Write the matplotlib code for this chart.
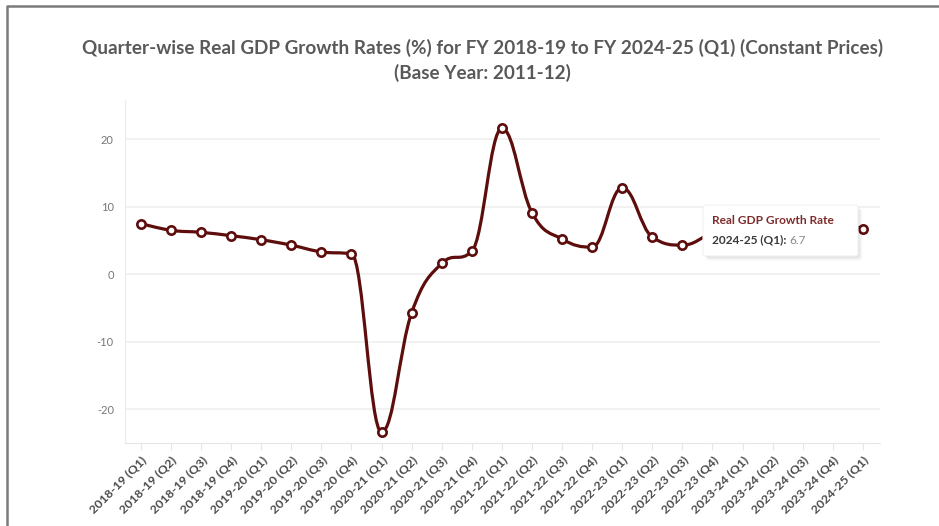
import numpy as np
import matplotlib.pyplot as plt
from matplotlib.path import Path
from matplotlib.patches import PathPatch, FancyBboxPatch
from matplotlib.lines import Line2D

quarters = [
    "2018-19 (Q1)", "2018-19 (Q2)", "2018-19 (Q3)", "2018-19 (Q4)",
    "2019-20 (Q1)", "2019-20 (Q2)", "2019-20 (Q3)", "2019-20 (Q4)",
    "2020-21 (Q1)", "2020-21 (Q2)", "2020-21 (Q3)", "2020-21 (Q4)",
    "2021-22 (Q1)", "2021-22 (Q2)", "2021-22 (Q3)", "2021-22 (Q4)",
    "2022-23 (Q1)", "2022-23 (Q2)", "2022-23 (Q3)", "2022-23 (Q4)",
    "2023-24 (Q1)", "2023-24 (Q2)", "2023-24 (Q3)", "2023-24 (Q4)",
    "2024-25 (Q1)",
]
gdp_growth = [
    7.5, 6.5, 6.2, 5.7,
    5.1, 4.3, 3.3, 3.0,
    -23.4, -5.7, 1.6, 3.4,
    21.6, 9.1, 5.2, 4.0,
    12.8, 5.5, 4.3, 6.2,
    8.2, 8.1, 8.6, 7.8,
    6.7,
]
y_ticks = [-20, -10, 0, 10, 20]

series_name = "Real GDP Growth Rate"
hover_idx = len(quarters) - 1

LINE = "#5e0d0d"
plt.rcParams["font.family"] = ["Lato", "DejaVu Sans"]


def spline_path(xs, ys, smoothing=1.5):
    # cubic bezier spline, control points computed the way Highcharts does it
    denom = smoothing + 1
    n = len(xs)
    left = [None] * n
    right = [None] * n
    for i in range(n):
        x, y = xs[i], ys[i]
        if 0 < i < n - 1:
            lx, ly = xs[i - 1], ys[i - 1]
            nx, ny = xs[i + 1], ys[i + 1]
            lcx = (smoothing * x + lx) / denom
            lcy = (smoothing * y + ly) / denom
            rcx = (smoothing * x + nx) / denom
            rcy = (smoothing * y + ny) / denom
            if rcx != lcx:
                corr = (rcy - lcy) * (rcx - x) / (rcx - lcx) + y - rcy
                lcy += corr
                rcy += corr
            if lcy > max(ly, y) or lcy < min(ly, y):
                lcy = max(ly, y) if lcy > max(ly, y) else min(ly, y)
                rcy = 2 * y - lcy
            if rcy > max(ny, y) or rcy < min(ny, y):
                rcy = max(ny, y) if rcy > max(ny, y) else min(ny, y)
                lcy = 2 * y - rcy
            left[i] = (lcx, lcy)
            right[i] = (rcx, rcy)
        else:
            left[i] = (x, y)
            right[i] = (x, y)
    verts = [(xs[0], ys[0])]
    codes = [Path.MOVETO]
    for i in range(1, n):
        verts += [right[i - 1], left[i], (xs[i], ys[i])]
        codes += [Path.CURVE4] * 3
    return Path(verts, codes)


fig = plt.figure(figsize=(9.39, 5.26), dpi=100)
ax = fig.add_axes([0.1331, 0.1578, 0.8041, 0.6521])

x = np.arange(len(quarters))
ax.add_patch(PathPatch(spline_path(list(x), gdp_growth), facecolor="none",
                       edgecolor=LINE, lw=2.3, zorder=3, capstyle="round"))
ax.plot(x, gdp_growth, ls="none", marker="o", ms=6.0, mfc="white",
        mec=LINE, mew=1.9, zorder=4)

ax.set_xlim(-0.53, len(quarters) - 0.43)
ax.set_ylim(-25, 25.8)
ax.set_yticks(y_ticks)
ax.set_yticklabels([str(v) for v in y_ticks])
ax.set_xticks(x)
ax.set_xticklabels(quarters, rotation=45, ha="right", rotation_mode="anchor",
                   fontsize=8.9, color="#4a4a4a", fontweight="bold")
ax.tick_params(axis="y", length=0, labelsize=8.0, labelcolor="#777777", pad=8)
ax.tick_params(axis="x", length=5, width=0.8, color="#e6e6e6", pad=3)
ax.grid(axis="y", color="#eeeeee", lw=1.1)
ax.set_axisbelow(True)
for side in ["top", "right"]:
    ax.spines[side].set_visible(False)
ax.spines["left"].set_color("#ececec")
ax.spines["bottom"].set_color("#e6e6e6")

fig.text(0.514, 0.909, "Quarter-wise Real GDP Growth Rates (%) for FY 2018-19 to FY 2024-25 (Q1) (Constant Prices)",
         ha="center", va="center", fontsize=13.6, fontweight="bold", color="#595959")
fig.text(0.514, 0.861, "(Base Year: 2011-12)",
         ha="center", va="center", fontsize=13.6, fontweight="bold", color="#595959")

# tooltip for the hovered point
tx0, ty0, tw, th = 703 / 939, 1 - 256 / 526, 155 / 939, 51 / 526
for k, a in enumerate([0.05, 0.04, 0.03]):
    fig.patches.append(FancyBboxPatch((tx0 + 0.0015 * (k + 1), ty0 - 0.003 * (k + 1)), tw, th,
                                      boxstyle="round,pad=0,rounding_size=0.004",
                                      transform=fig.transFigure, facecolor="black",
                                      edgecolor="none", alpha=a, zorder=5))
fig.patches.append(FancyBboxPatch((tx0, ty0), tw, th,
                                  boxstyle="round,pad=0,rounding_size=0.004",
                                  transform=fig.transFigure, facecolor="white",
                                  edgecolor="#f2f2f2", lw=0.8, zorder=6))
fig.text(712 / 939, 1 - 220 / 526, series_name, ha="left", va="center",
         fontsize=8.6, fontweight="bold", color="#7d2b2b", zorder=7)
t = fig.text(712 / 939, 1 - 240 / 526, quarters[hover_idx] + ": ", ha="left", va="center",
             fontsize=8.6, fontweight="bold", color="#3a3a3a", zorder=7)
fig.canvas.draw()
bb = t.get_window_extent()
fig.text(bb.x1 / fig.bbox.width, 1 - 240 / 526, f"{gdp_growth[hover_idx]}", ha="left",
         va="center", fontsize=8.6, color="#8a8a8a", zorder=7)

# outer frame
fig.lines.append(Line2D([7 / 939, 7 / 939, 1.0], [0.0, 1 - 6 / 526, 1 - 6 / 526],
                        transform=fig.transFigure, color="#7a7a7a", lw=1.8))

fig.savefig("out.png", dpi=100)
